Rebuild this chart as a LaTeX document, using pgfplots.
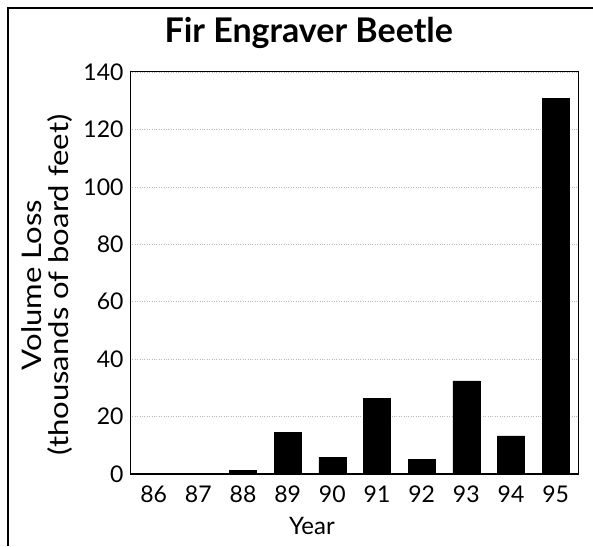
\documentclass[border=0pt]{standalone}
\usepackage{fontspec}
\setmainfont{Lato}
\usepackage{pgfplots}
\pgfplotsset{compat=1.18}
\begin{document}
\begin{tikzpicture}[x=1pt,y=1pt]
\useasboundingbox (0,0) rectangle (593,546);
\draw[line width=1.8pt] (8,0) -- (8,538) -- (593,538);
\begin{axis}[
  at={(130pt,72pt)}, anchor=south west,
  scale only axis, width=448pt, height=402pt,
  ybar, bar width=27pt,
  xmin=-0.53, xmax=9.5, ymin=0, ymax=140,
  xtick=data, xticklabels={86,87,88,89,90,91,92,93,94,95},
  ytick={0,20,...,140},
  major tick length=0pt,
  ymajorgrids, grid style={gray!55, dotted, line width=0.6pt},
  axis line style={line width=1pt},
  /pgf/number format/assume math mode=true,
  tick label style={font=\fontsize{23}{25}\selectfont},
  yticklabel style={xshift=-3pt},
  xticklabel style={yshift=-8pt},
  xlabel={Year},
  xlabel style={font=\fontsize{24}{26}\selectfont, at={(axis description cs:0.406,0)}, anchor=north, yshift=-40pt},
  ylabel={\scalebox{1.15}[1]{\begin{tabular}{@{}c@{}}Volume Loss\\[-3pt](thousands of board feet)\end{tabular}}},
  ylabel style={font=\fontsize{27}{29}\selectfont, at={(axis description cs:-0.18,0.47)}, anchor=center},
  title={Fir Engraver Beetle},
  title style={font=\fontsize{34}{36}\selectfont\bfseries, at={(axis description cs:0.399,1)}, anchor=center, yshift=33pt},
]
\addplot[fill=black, draw=black] coordinates {
(0,0.2) (1,0.2) (2,1.3) (3,14.5) (4,5.9) (5,26.4) (6,5.2) (7,32.4) (8,13.3) (9,130.8)};
\draw[line width=2pt] (rel axis cs:0,1) -- (rel axis cs:0,0) -- (rel axis cs:1,0);
\end{axis}
\end{tikzpicture}
\end{document}
